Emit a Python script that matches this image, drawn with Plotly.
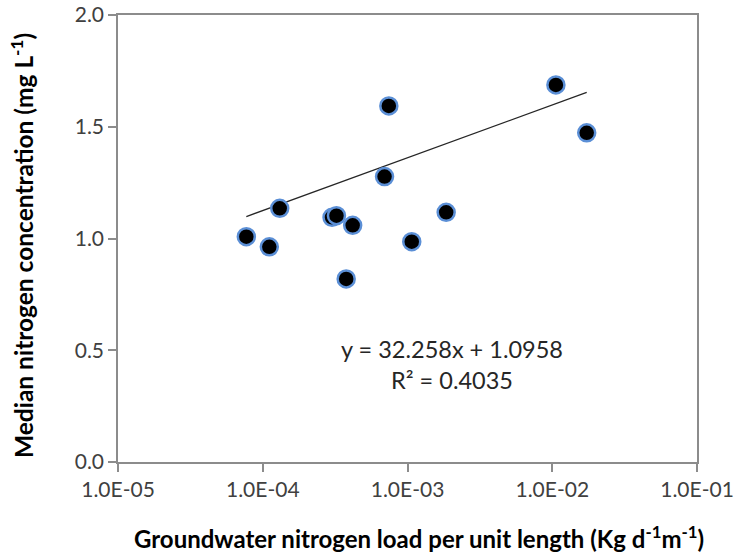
import plotly.graph_objects as go

# Groundwater nitrogen load per unit length (kg d-1 m-1)
load = [7.7e-5, 1.11e-4, 1.31e-4, 3.01e-4, 3.23e-4, 4.18e-4, 3.77e-4,
        7.43e-4, 6.94e-4, 1.07e-3, 1.85e-3, 1.06e-2, 1.73e-2]
# Median nitrogen concentration (mg L-1)
conc = [1.008, 0.963, 1.135, 1.095, 1.102, 1.059, 0.819,
        1.593, 1.277, 0.986, 1.117, 1.687, 1.473]

# Linear trendline reported on the chart
slope = 32.258
intercept = 1.0958
r_squared = 0.4035

x_ticks = [1e-5, 1e-4, 1e-3, 1e-2, 1e-1]
x_tick_text = ["1.0E-05", "1.0E-04", "1.0E-03", "1.0E-02", "1.0E-01"]
y_ticks = [0.0, 0.5, 1.0, 1.5, 2.0]
y_tick_text = ["0.0", "0.5", "1.0", "1.5", "2.0"]

FONT = "Lato, 'Open Sans', sans-serif"
AXIS = "#8c8c8c"

trend_x = [min(load), max(load)]
trend_y = [slope * v + intercept for v in trend_x]

fig = go.Figure()
fig.add_trace(go.Scatter(
    x=trend_x, y=trend_y, mode="lines",
    line=dict(color="#262626", width=1.3),
    showlegend=False, hoverinfo="skip",
))
fig.add_trace(go.Scatter(
    x=load, y=conc, mode="markers",
    marker=dict(size=17, color="black",
                line=dict(color="#5B8FD6", width=2.5)),
    showlegend=False,
))

# Trendline equation and coefficient of determination
fig.add_annotation(
    x=0.576, y=0.219, xref="paper", yref="paper",
    xanchor="center", yanchor="middle",
    text=f"y = {slope}x + {intercept}<br>R² = {r_squared}",
    showarrow=False, align="center",
    font=dict(family=FONT, size=23.5, color="#262626"),
)

# Axis titles
fig.add_annotation(
    x=0.52, y=-0.168, xref="paper", yref="paper",
    xanchor="center", yanchor="middle",
    text="<b>Groundwater nitrogen load per unit length (Kg d<sup>-1</sup>m<sup>-1</sup>)</b>",
    showarrow=False, font=dict(family=FONT, size=24, color="black"),
)
fig.add_annotation(
    x=-0.166, y=0.485, xref="paper", yref="paper",
    xanchor="center", yanchor="middle", textangle=-90,
    text="<b>Median nitrogen concentration (mg L<sup>-1</sup>)</b>",
    showarrow=False, font=dict(family=FONT, size=24.5, color="black"),
)

fig.update_layout(
    width=741, height=554,
    margin=dict(l=118, r=44, t=15, b=92, autoexpand=False),
    paper_bgcolor="white", plot_bgcolor="white",
    font=dict(family=FONT, size=21, color="#404040"),
    xaxis=dict(
        type="log", range=[-5, -1], automargin=False,
        tickvals=x_ticks, ticktext=x_tick_text,
        showline=True, linecolor=AXIS, linewidth=1.5, mirror=True,
        ticks="outside", ticklen=8, tickcolor=AXIS, tickwidth=1.5,
        showgrid=False, zeroline=False,
    ),
    yaxis=dict(
        range=[0, 2.0], automargin=False,
        tickvals=y_ticks, ticktext=y_tick_text,
        showline=True, linecolor=AXIS, linewidth=1.5, mirror=True,
        ticks="outside", ticklen=8, tickcolor=AXIS, tickwidth=1.5,
        showgrid=False, zeroline=False,
    ),
)

fig.write_html("out.html")
